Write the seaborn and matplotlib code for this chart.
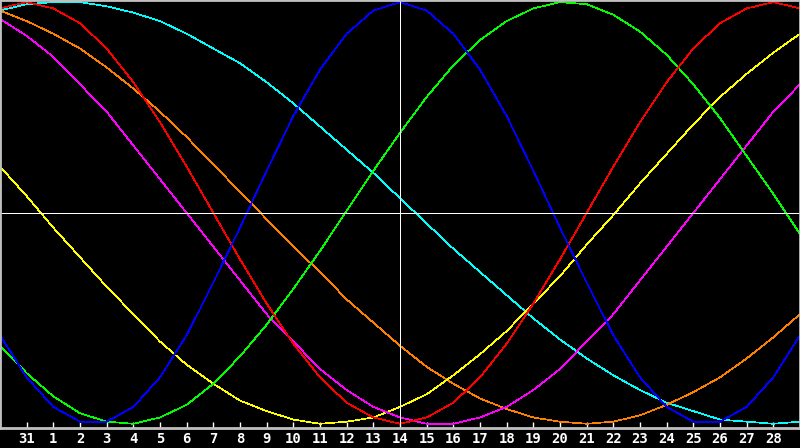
import matplotlib
matplotlib.use('Agg')
import matplotlib.pyplot as plt
import pandas as pd
import seaborn as sns

# day positions (-1 .. 29), 0 is the 31st of the previous month
positions = list(range(-1, 30))
tick_pos = list(range(0, 29))
tick_labels = ['31'] + [str(d) for d in range(1, 29)]

physical = [-0.58, -0.78, -0.92, -0.99, -0.99, -0.92, -0.78, -0.58, -0.33, -0.07, 0.20,
            0.46, 0.68, 0.85, 0.96, 1.00, 0.96, 0.85, 0.68, 0.46, 0.20, -0.07,
            -0.33, -0.58, -0.78, -0.92, -0.99, -0.99, -0.92, -0.78, -0.58]
emotional = [0.97, 1.00, 0.97, 0.90, 0.78, 0.62, 0.43, 0.22, 0.00, -0.22, -0.43,
             -0.62, -0.78, -0.90, -0.97, -1.00, -0.97, -0.90, -0.78, -0.62, -0.43, -0.22,
             0.00, 0.22, 0.43, 0.62, 0.78, 0.90, 0.97, 1.00, 0.97]
intellectual = [-0.63, -0.76, -0.87, -0.95, -0.99, -1.00, -0.97, -0.91, -0.81, -0.68, -0.53,
                -0.36, -0.18, 0.01, 0.20, 0.38, 0.55, 0.70, 0.82, 0.91, 0.97, 1.00,
                0.99, 0.94, 0.86, 0.75, 0.61, 0.45, 0.27, 0.09, -0.10]
intuitive = [0.92, 0.84, 0.74, 0.61, 0.48, 0.32, 0.16, 0.00, -0.16, -0.32, -0.48,
             -0.61, -0.74, -0.84, -0.92, -0.97, -1.00, -1.00, -0.97, -0.92, -0.84, -0.74,
             -0.61, -0.48, -0.32, -0.16, 0.00, 0.16, 0.32, 0.48, 0.61]
aesthetic = [0.22, 0.08, -0.07, -0.21, -0.35, -0.48, -0.61, -0.72, -0.81, -0.89, -0.94,
             -0.98, -1.00, -0.99, -0.97, -0.92, -0.86, -0.77, -0.67, -0.56, -0.43, -0.30,
             -0.15, -0.01, 0.14, 0.28, 0.42, 0.55, 0.66, 0.76, 0.85]
awareness = [0.96, 0.91, 0.85, 0.78, 0.69, 0.59, 0.48, 0.36, 0.23, 0.10, -0.03,
             -0.16, -0.28, -0.41, -0.52, -0.63, -0.73, -0.81, -0.88, -0.93, -0.97, -0.99,
             -1.00, -0.99, -0.96, -0.91, -0.85, -0.78, -0.69, -0.59, -0.48]
spiritual = [0.96, 0.99, 1.00, 1.00, 0.98, 0.95, 0.91, 0.85, 0.78, 0.71, 0.62,
             0.52, 0.41, 0.30, 0.19, 0.07, -0.05, -0.17, -0.28, -0.39, -0.50, -0.60,
             -0.69, -0.77, -0.84, -0.90, -0.94, -0.98, -0.99, -1.00, -0.99]

series = {
    'spiritual': spiritual,
    'awareness': awareness,
    'aesthetic': aesthetic,
    'intuitive': intuitive,
    'intellectual': intellectual,
    'emotional': emotional,
    'physical': physical,
}
colors = {
    'physical': '#0000ff',
    'emotional': '#ff0000',
    'intellectual': '#00ff00',
    'intuitive': '#ff00ff',
    'aesthetic': '#ffff00',
    'awareness': '#ff8000',
    'spiritual': '#00ffff',
}

frames = [pd.DataFrame({'day': positions, 'value': vals, 'cycle': name})
          for name, vals in series.items()]
df = pd.concat(frames, ignore_index=True)

sns.set_style('dark')
plt.rcParams['axes.facecolor'] = 'black'
plt.rcParams['figure.facecolor'] = 'black'

fig = plt.figure(figsize=(8, 4.48), dpi=100)
ax = fig.add_axes([0, 20 / 448, 1, 428 / 448])
ax.set_facecolor('black')

sns.lineplot(data=df, x='day', y='value', hue='cycle', hue_order=list(series.keys()),
             palette=colors, legend=False, linewidth=0.5, antialiased=False, ax=ax)

# cross hair through the middle
ax.axvline(14, color='white', linewidth=0.6, antialiased=False)
ax.axhline(0, color='white', linewidth=0.6, antialiased=False)

ax.set_xlim(-1, 29)
ax.set_ylim(-1.02, 1.01)
ax.set_xticks(tick_pos)
ax.set_xticklabels(tick_labels, family='DejaVu Sans Mono', fontweight='bold',
                   fontsize=10, color='white')
ax.tick_params(axis='x', direction='in', length=4, width=1, colors='white',
               labelcolor='white', pad=3, bottom=True)
ax.set_yticks([])
ax.set(xlabel='', ylabel='')
ax.grid(False)
for side in ['left', 'right', 'top', 'bottom']:
    ax.spines[side].set_visible(True)
    ax.spines[side].set_color('#c0c0c0')
    ax.spines[side].set_linewidth(2)

fig.savefig('out.png', dpi=100, facecolor='black')
